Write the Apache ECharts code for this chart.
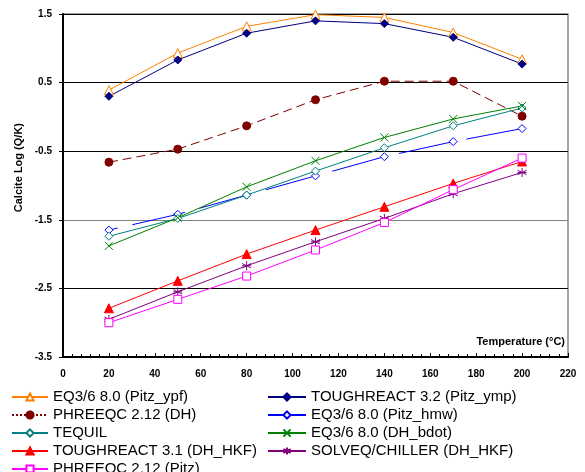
<!DOCTYPE html>
<html>
<head>
<meta charset="utf-8">
<script src="https://cdn.jsdelivr.net/npm/echarts@6/dist/echarts.min.js"></script>
<style>
  html, body { margin: 0; padding: 0; background: #fff; }
  #main { width: 585px; height: 472px; }
</style>
</head>
<body>
<div id="main"></div>
<script>
var temps = [20, 50, 80, 110, 140, 170, 200];
var xTicks = [0, 20, 40, 60, 80, 100, 120, 140, 160, 180, 200, 220];
var yTicks = [-3.5, -2.5, -1.5, -0.5, 0.5, 1.5];

var eq36Ypf = [0.39, 0.93, 1.32, 1.49, 1.45, 1.23, 0.84];
var tough32 = [0.30, 0.83, 1.22, 1.40, 1.36, 1.16, 0.77];
var phreeqcDH = [-0.66, -0.47, -0.13, 0.25, 0.52, 0.52, 0.01];
var eq36Hmw = [-1.65, -1.42, -1.14, -0.86, -0.58, -0.36, -0.17];
var tequil = [-1.74, -1.48, -1.14, -0.79, -0.45, -0.13, 0.13];
var eq36Bdot = [-1.88, -1.47, -1.02, -0.64, -0.30, -0.03, 0.16];
var tough31 = [-2.79, -2.39, -2.00, -1.65, -1.31, -0.97, -0.65];
var solveq = [-2.95, -2.55, -2.17, -1.82, -1.48, -1.12, -0.81];
var phreeqcPitz = [-3.00, -2.66, -2.32, -1.94, -1.54, -1.06, -0.60];

function pairs(vals) {
    return temps.map(function(t, i) { return [t, vals[i]]; });
}

var xMark = 'path://M0,0L10,10M10,0L0,10';
var starMark = 'path://M5,0L5,10M0,2.5L10,7.5M0,7.5L10,2.5M0,5L10,5';

// hollow: white fill with a thin coloured outline
function line(name, vals, color, symbol, size, opts) {
    opts = opts || {};
    return {
        name: name,
        type: 'line',
        data: pairs(vals),
        symbol: symbol,
        symbolSize: size,
        showAllSymbol: true,
        lineStyle: { color: color, width: 1, type: opts.dash || 'solid', dashOffset: opts.dashOffset || 0 },
        itemStyle: { color: opts.hollow ? '#fff' : color, borderColor: color, borderWidth: 1 },
        emphasis: { disabled: true },
        animation: false
    };
}

function chart01() {
    var myChart = echarts.init(document.getElementById('main'));
    var legendText = { fontFamily: 'Liberation Sans, Arial, sans-serif', fontSize: 15, color: '#000', lineHeight: 18 };
    var legendBase = { orient: 'vertical', padding: 0, itemHeight: 9, itemGap: 0, textStyle: legendText };
    var option = {
        backgroundColor: '#fff',
        textStyle: { fontFamily: 'Liberation Sans, Arial, sans-serif' },
        grid: { left: 63, right: 17, top: 14, bottom: 115, show: true, borderColor: '#888', borderWidth: 1.5 },
        legend: [
            Object.assign({}, legendBase, {
                left: 11, top: 388, itemWidth: 36,
                data: ['EQ3/6 8.0 (Pitz_ypf)',
                    { name: 'PHREEQC 2.12 (DH)', lineStyle: { type: [2, 2] } },
                    'TEQUIL', 'TOUGHREACT 3.1 (DH_HKF)']
            }),
            Object.assign({}, legendBase, {
                left: 11, top: 460, itemWidth: 36,
                data: ['PHREEQC 2.12 (Pitz)']
            }),
            Object.assign({}, legendBase, {
                left: 267, top: 388, itemWidth: 38,
                data: ['TOUGHREACT 3.2 (Pitz_ymp)',
                    { name: 'EQ3/6 8.0 (Pitz_hmw)', lineStyle: { type: 'solid' } },
                    'EQ3/6 8.0 (DH_bdot)', 'SOLVEQ/CHILLER (DH_HKF)']
            })
        ],
        xAxis: {
            type: 'value', min: xTicks[0], max: xTicks[xTicks.length - 1], interval: 20,
            axisLine: { onZero: false, lineStyle: { color: '#000', width: 2 } },
            axisTick: { inside: true, length: 4, lineStyle: { color: '#000' } },
            minorTick: { show: true, splitNumber: 5, length: 3, lineStyle: { color: '#000' } },
            axisLabel: { color: '#000', fontWeight: 'bold', fontSize: 10, margin: 12 },
            splitLine: { show: false }
        },
        yAxis: {
            type: 'value', min: yTicks[0], max: yTicks[yTicks.length - 1], interval: 1,
            axisLine: { show: true, lineStyle: { color: '#000', width: 2 } },
            axisTick: { show: true, inside: false, length: 4, lineStyle: { color: '#000' } },
            axisLabel: { color: '#000', fontWeight: 'bold', fontSize: 10, margin: 11 },
            splitLine: { show: true, lineStyle: { color: ['#000', '#000', '#808080', '#000', '#000', '#000'], width: 1.2 } }
        },
        graphic: [{
            type: 'text', left: 13, top: 123, rotation: Math.PI / 2,
            style: { text: 'Calcite Log (Q/K)', font: 'bold 11px Liberation Sans, Arial, sans-serif', fill: '#000' }
        }, {
            type: 'text', right: 20, top: 336,
            style: { text: 'Temperature (\u00b0C)', font: 'bold 11px Liberation Sans, Arial, sans-serif', fill: '#000' }
        }],
        series: [
            line('EQ3/6 8.0 (Pitz_ypf)', eq36Ypf, '#FF8000', 'triangle', 9, { hollow: true }),
            line('TOUGHREACT 3.2 (Pitz_ymp)', tough32, '#000080', 'diamond', 8),
            line('PHREEQC 2.12 (DH)', phreeqcDH, '#800000', 'circle', 8, { dash: [9, 5] }),
            line('EQ3/6 8.0 (Pitz_hmw)', eq36Hmw, '#0000FF', 'diamond', 8, { hollow: true, dash: [54, 15], dashOffset: 45 }),
            line('TEQUIL', tequil, '#008080', 'diamond', 8, { hollow: true }),
            line('EQ3/6 8.0 (DH_bdot)', eq36Bdot, '#008000', xMark, 8),
            line('TOUGHREACT 3.1 (DH_HKF)', tough31, '#FF0000', 'triangle', 9),
            line('SOLVEQ/CHILLER (DH_HKF)', solveq, '#800080', starMark, 9),
            line('PHREEQC 2.12 (Pitz)', phreeqcPitz, '#FF00FF', 'rect', 8, { hollow: true })
        ]
    };
    myChart.setOption(option);
}

chart01();
</script>
</body>
</html>
